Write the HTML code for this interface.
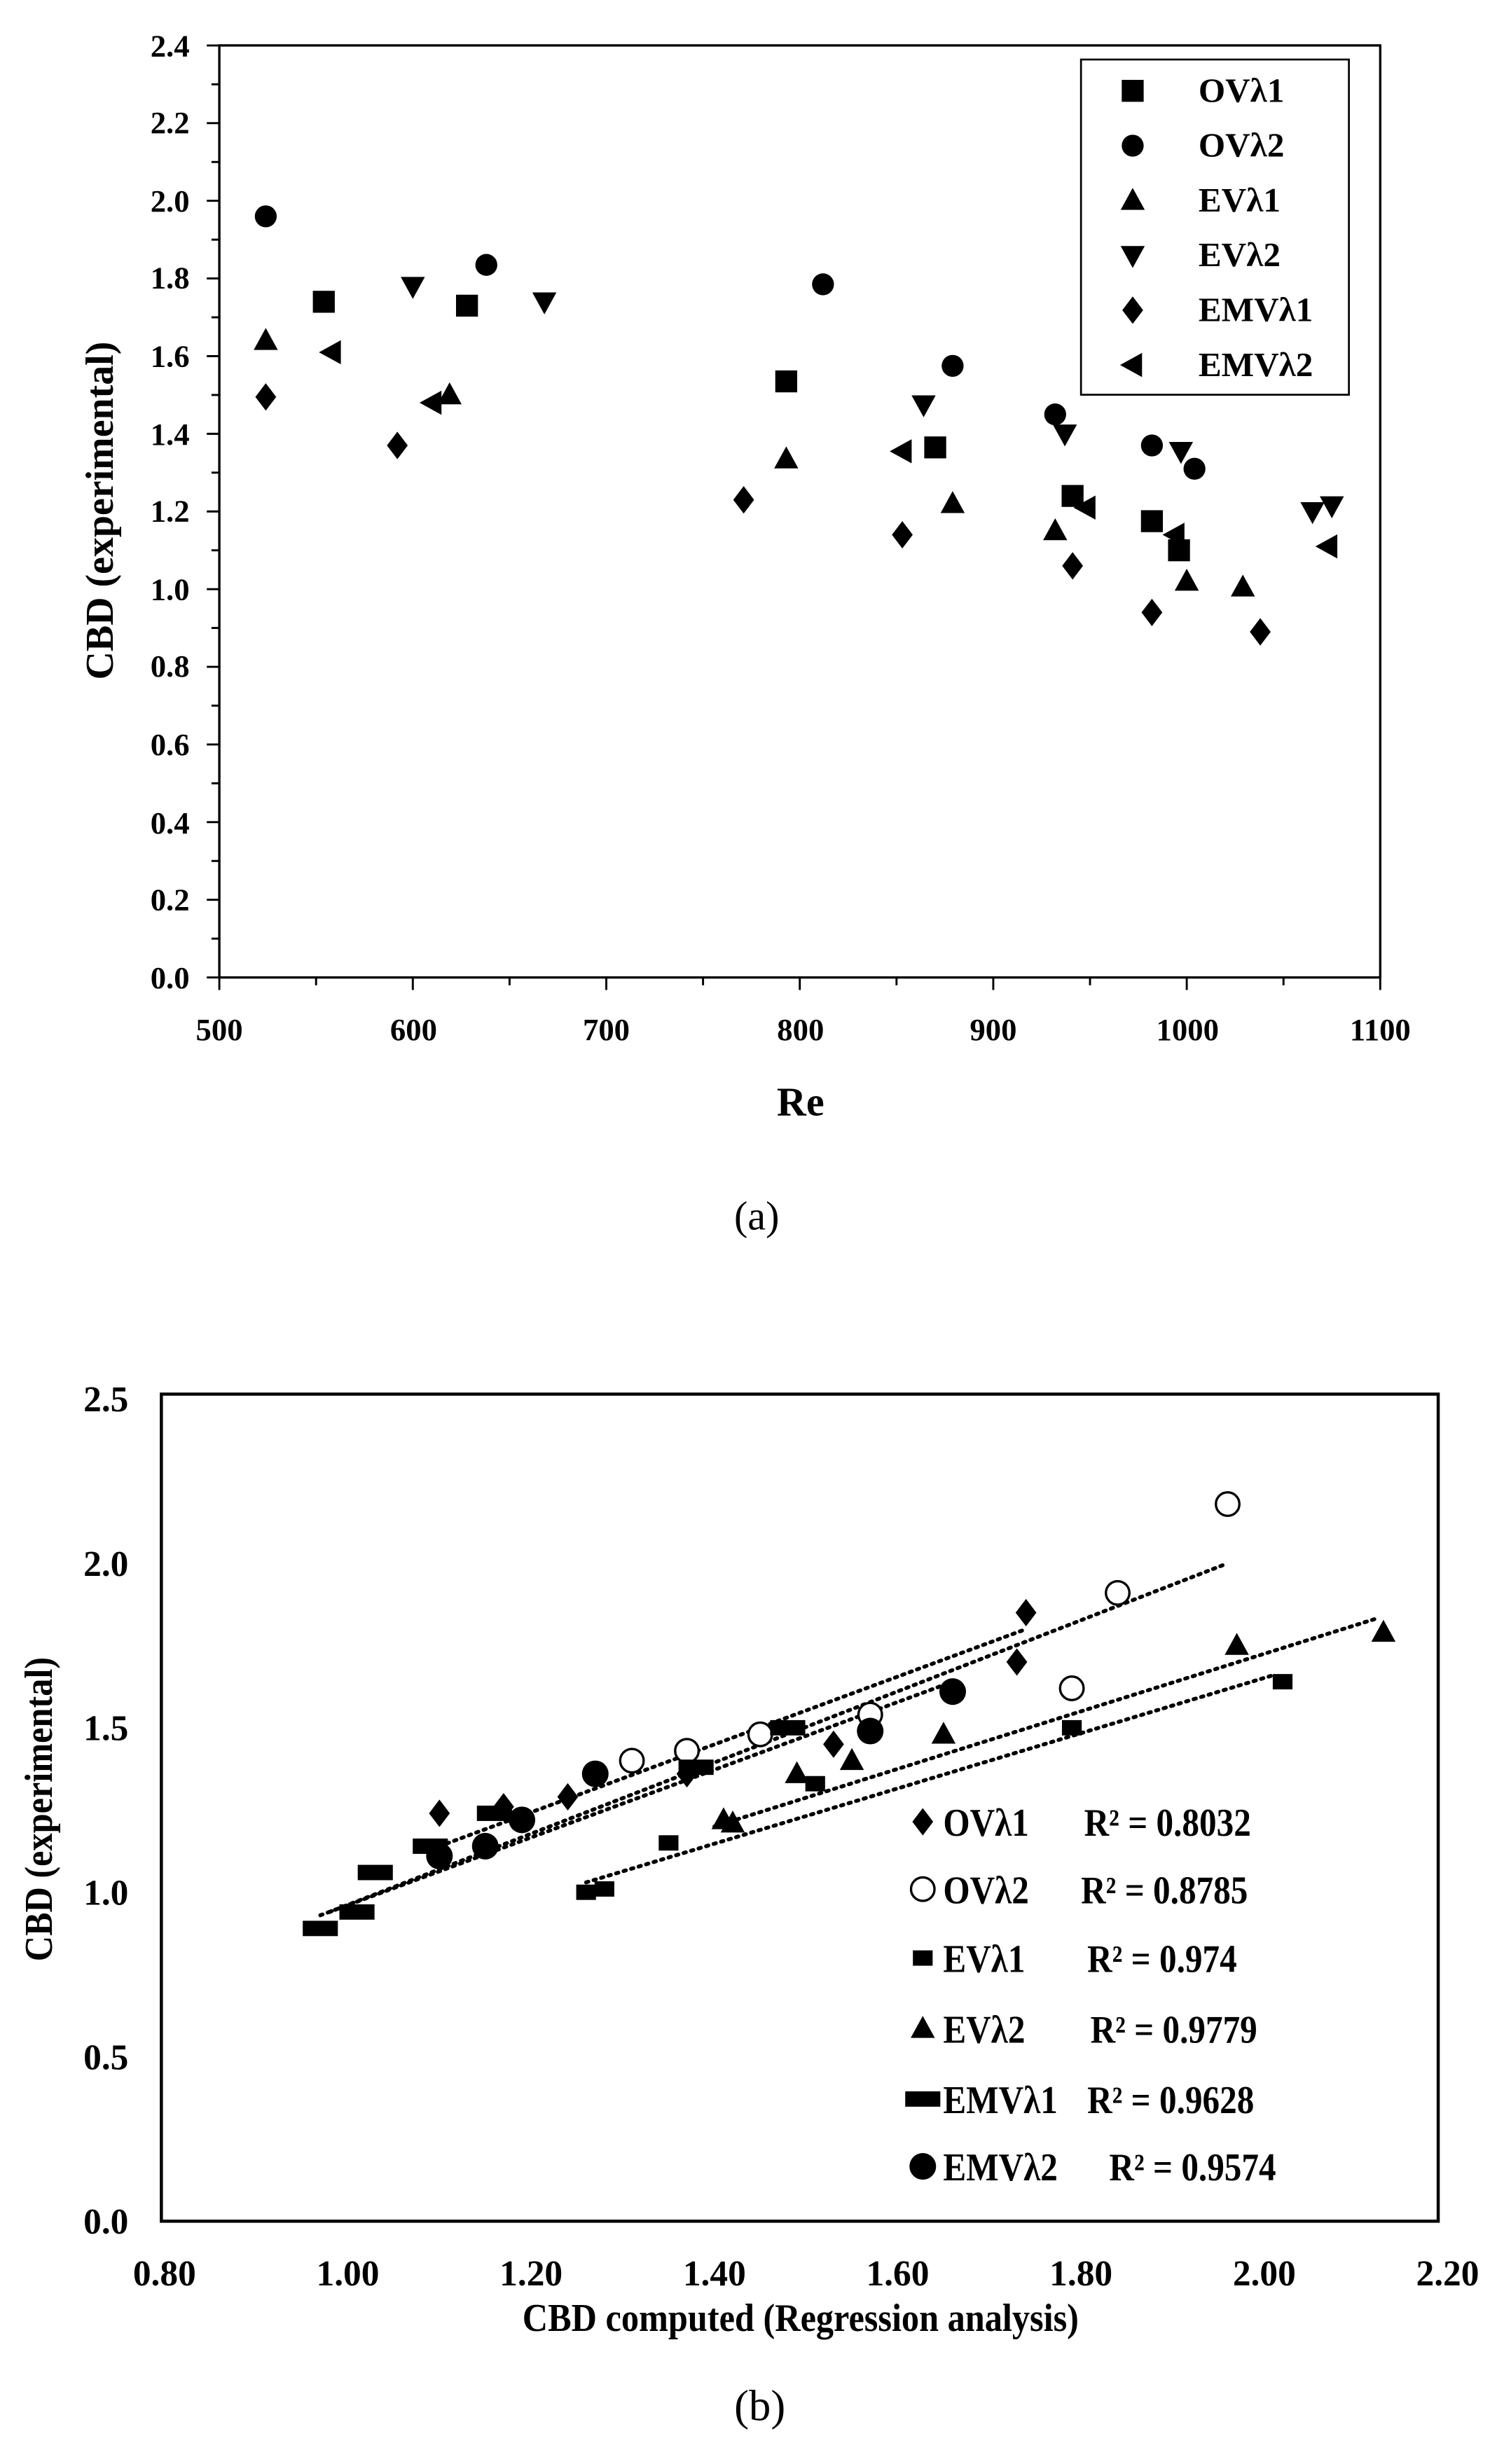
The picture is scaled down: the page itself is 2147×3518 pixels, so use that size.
<!DOCTYPE html>
<html><head><meta charset="utf-8"><style>
html,body{margin:0;padding:0;background:#fff;}
svg{display:block;}
text{font-family:"Liberation Serif",serif;font-weight:bold;fill:#000;}
</style></head><body>
<svg id="s" width="2147" height="3518" viewBox="0 0 960 1573" preserveAspectRatio="none" xmlns="http://www.w3.org/2000/svg">
<rect width="960" height="1573" fill="#fff"/>
<rect x="140" y="29" width="741" height="595" fill="none" stroke="#000" stroke-width="1.5"/>
<g id="topticks" stroke="#000" stroke-width="1.3"></g>
<g font-size="20" text-anchor="end">
<text x="121" y="631">0.0</text><text x="121" y="581">0.2</text><text x="121" y="532">0.4</text><text x="121" y="482">0.6</text><text x="121" y="432">0.8</text><text x="121" y="383">1.0</text><text x="121" y="333">1.2</text><text x="121" y="284">1.4</text><text x="121" y="234">1.6</text><text x="121" y="184">1.8</text><text x="121" y="135">2.0</text><text x="121" y="85">2.2</text><text x="121" y="36">2.4</text>
</g>
<g font-size="20" text-anchor="middle">
<text x="140" y="664">500</text><text x="264" y="664">600</text><text x="387" y="664">700</text><text x="511" y="664">800</text><text x="634" y="664">900</text><text x="758" y="664">1000</text><text x="881" y="664">1100</text>
</g>
<text x="511" y="712" font-size="26" text-anchor="middle">Re</text>
<text transform="translate(72,326) rotate(-90)" font-size="25" text-anchor="middle">CBD (experimental)</text>
<text x="483" y="785" font-size="26" text-anchor="middle" style="font-weight:normal">(a)</text>
<rect x="690" y="38" width="171" height="214" fill="#fff" stroke="#000" stroke-width="1.2"/>
<g font-size="22">
<text x="765" y="65">OVλ1</text><text x="765" y="100">OVλ2</text><text x="765" y="135">EVλ1</text><text x="765" y="170">EVλ2</text><text x="765" y="205">EMVλ1</text><text x="765" y="240">EMVλ2</text>
</g>
<g id="topm"></g>

<rect x="103" y="890" width="815" height="528" fill="none" stroke="#000" stroke-width="2"/>
<g font-size="23" text-anchor="end">
<text x="82" y="1426">0.0</text><text x="82" y="1321">0.5</text><text x="82" y="1216">1.0</text><text x="82" y="1111">1.5</text><text x="82" y="1006">2.0</text><text x="82" y="901">2.5</text>
</g>
<g font-size="23" text-anchor="middle" id="bx"></g>
<text transform="translate(511,1488) scale(0.9,1)" font-size="25" text-anchor="middle">CBD computed (Regression analysis)</text>
<text transform="translate(33,1155) rotate(-90) scale(0.9,1)" font-size="25" text-anchor="middle">CBD (experimental)</text>
<text x="485" y="1545" font-size="28" text-anchor="middle" style="font-weight:normal">(b)</text>
<g id="bl" stroke="#000" stroke-width="2.5" stroke-dasharray="1.5 3.5" stroke-linecap="round" fill="none"></g>
<g id="botm"></g>
<g font-size="25">
<text transform="translate(602,1172) scale(0.88,1)">OVλ1</text><text transform="translate(692,1172) scale(0.88,1)">R² = 0.8032</text>
<text transform="translate(602,1215) scale(0.88,1)">OVλ2</text><text transform="translate(690,1215) scale(0.88,1)">R² = 0.8785</text>
<text transform="translate(602,1259) scale(0.88,1)">EVλ1</text><text transform="translate(694,1259) scale(0.88,1)">R² = 0.974</text>
<text transform="translate(602,1304) scale(0.88,1)">EVλ2</text><text transform="translate(696,1304) scale(0.88,1)">R² = 0.9779</text>
<text transform="translate(602,1349) scale(0.88,1)">EMVλ1</text><text transform="translate(694,1349) scale(0.88,1)">R² = 0.9628</text>
<text transform="translate(602,1392) scale(0.88,1)">EMVλ2</text><text transform="translate(708,1392) scale(0.88,1)">R² = 0.9574</text>
</g>
</svg>
<script>
var NS="http://www.w3.org/2000/svg";
function el(p,t,a){var e=document.createElementNS(NS,t);for(var k in a)e.setAttribute(k,a[k]);document.getElementById(p).appendChild(e);return e;}
for(var r=500;r<=1100;r+=50){var x=140+(r-500)*1.235;var L=(r%100==0)?8:5;el("topticks","line",{x1:x,y1:624,x2:x,y2:624+L});}
for(var i=0;i<=24;i++){var y=624-i*0.1*247.9;var L=(i%2==0)?8:5;el("topticks","line",{x1:140,y1:y,x2:140-L,y2:y});}
function mk(g,type,x,y,s,fill){
 var f=fill||"#000";
 if(type=="sq")el(g,"rect",{x:x-s,y:y-s,width:2*s,height:2*s,fill:f});
 else if(type=="ci")el(g,"circle",{cx:x,cy:y,r:s,fill:f});
 else if(type=="oc")el(g,"circle",{cx:x,cy:y,r:s,fill:"#fff",stroke:"#000","stroke-width":1.5});
 else if(type=="up")el(g,"polygon",{points:(x)+","+(y-s*1.15)+" "+(x-s*1.1)+","+(y+s*0.85)+" "+(x+s*1.1)+","+(y+s*0.85),fill:f});
 else if(type=="dn")el(g,"polygon",{points:(x)+","+(y+s*1.15)+" "+(x-s*1.1)+","+(y-s*0.85)+" "+(x+s*1.1)+","+(y-s*0.85),fill:f});
 else if(type=="di")el(g,"polygon",{points:x+","+(y-s*1.25)+" "+(x+s*0.95)+","+y+" "+x+","+(y+s*1.25)+" "+(x-s*0.95)+","+y,fill:f});
 else if(type=="lt")el(g,"polygon",{points:(x-s*1.15)+","+y+" "+(x+s*0.85)+","+(y-s*1.1)+" "+(x+s*0.85)+","+(y+s*1.1),fill:f});
 else if(type=="rc")el(g,"rect",{x:x-s*1.6,y:y-s*0.7,width:s*3.2,height:s*1.4,fill:f});
 else if(type=="ss")el(g,"rect",{x:x-s*0.9,y:y-s*0.7,width:s*1.8,height:s*1.4,fill:f});
}
var T={sq:[[554,1.74],[628,1.73],[793,1.535],[870,1.365],[941,1.24],[982,1.175],[996,1.10]],
ci:[[524,1.96],[638,1.835],[812,1.785],[879,1.575],[932,1.45],[982,1.37],[1004,1.31]],
up:[[524,1.64],[619,1.50],[793,1.335],[879,1.22],[932,1.15],[1000,1.02],[1029,1.005]],
dn:[[600,1.78],[668,1.74],[864,1.475],[937,1.40],[997,1.355],[1065,1.20],[1075,1.215]],
di:[[524,1.495],[592,1.37],[771,1.23],[853,1.14],[941,1.06],[982,0.94],[1038,0.89]],
lt:[[558,1.61],[610,1.48],[853,1.355],[948,1.21],[994,1.14],[1073,1.11]]};
for(var k in T)T[k].forEach(function(p){mk("topm",k,140+(p[0]-500)*1.235,624-p[1]*247.9,7);});
["sq","ci","up","dn","di","lt"].forEach(function(k,i){mk("topm",k,723,58+i*35,7);});
function bx(v){return 105+(v-0.8)*585;}function by(v){return 1418-v*210;}
["0.80","1.00","1.20","1.40","1.60","1.80","2.00","2.20"].forEach(function(t,i){var e=el("bx","text",{x:bx(0.8+i*0.2),y:1459});e.textContent=t;});
[[0.98,0.94,1.96,2.00],[1.10,1.14,1.74,1.80],[0.97,0.93,1.66,1.64],[1.40,1.20,2.12,1.83],[1.26,1.03,2.01,1.66]].forEach(function(l){el("bl","line",{x1:bx(l[0]),y1:by(l[1]),x2:bx(l[2]),y2:by(l[3])});});
var B={di:[[1.10,1.24],[1.17,1.26],[1.24,1.29],[1.37,1.36],[1.53,1.45],[1.73,1.70],[1.74,1.85]],
oc:[[1.31,1.40],[1.37,1.43],[1.45,1.48],[1.57,1.54],[1.79,1.62],[1.84,1.91],[1.96,2.18]],
ss:[[1.26,1.00],[1.28,1.01],[1.35,1.15],[1.51,1.33],[1.79,1.50],[2.02,1.64]],
up:[[1.41,1.22],[1.42,1.21],[1.49,1.36],[1.55,1.40],[1.65,1.48],[1.97,1.75],[2.13,1.79]],
rc:[[0.97,0.89],[1.01,0.94],[1.03,1.06],[1.09,1.14],[1.16,1.24],[1.38,1.38],[1.48,1.50]],
ci:[[1.10,1.11],[1.15,1.14],[1.19,1.22],[1.27,1.36],[1.57,1.49],[1.66,1.61]]};
for(var k in B)B[k].forEach(function(p){mk("botm",k,bx(p[0]),by(p[1]),k=="ci"?8.5:(k=="oc"?7.5:7));});
["di","oc","ss","up","rc","ci"].forEach(function(k,i){mk("botm",k,589,[1163,1206,1250,1295,1340,1383][i],k=="ci"?8.5:(k=="oc"?7.5:7));});
</script>
</body></html>
